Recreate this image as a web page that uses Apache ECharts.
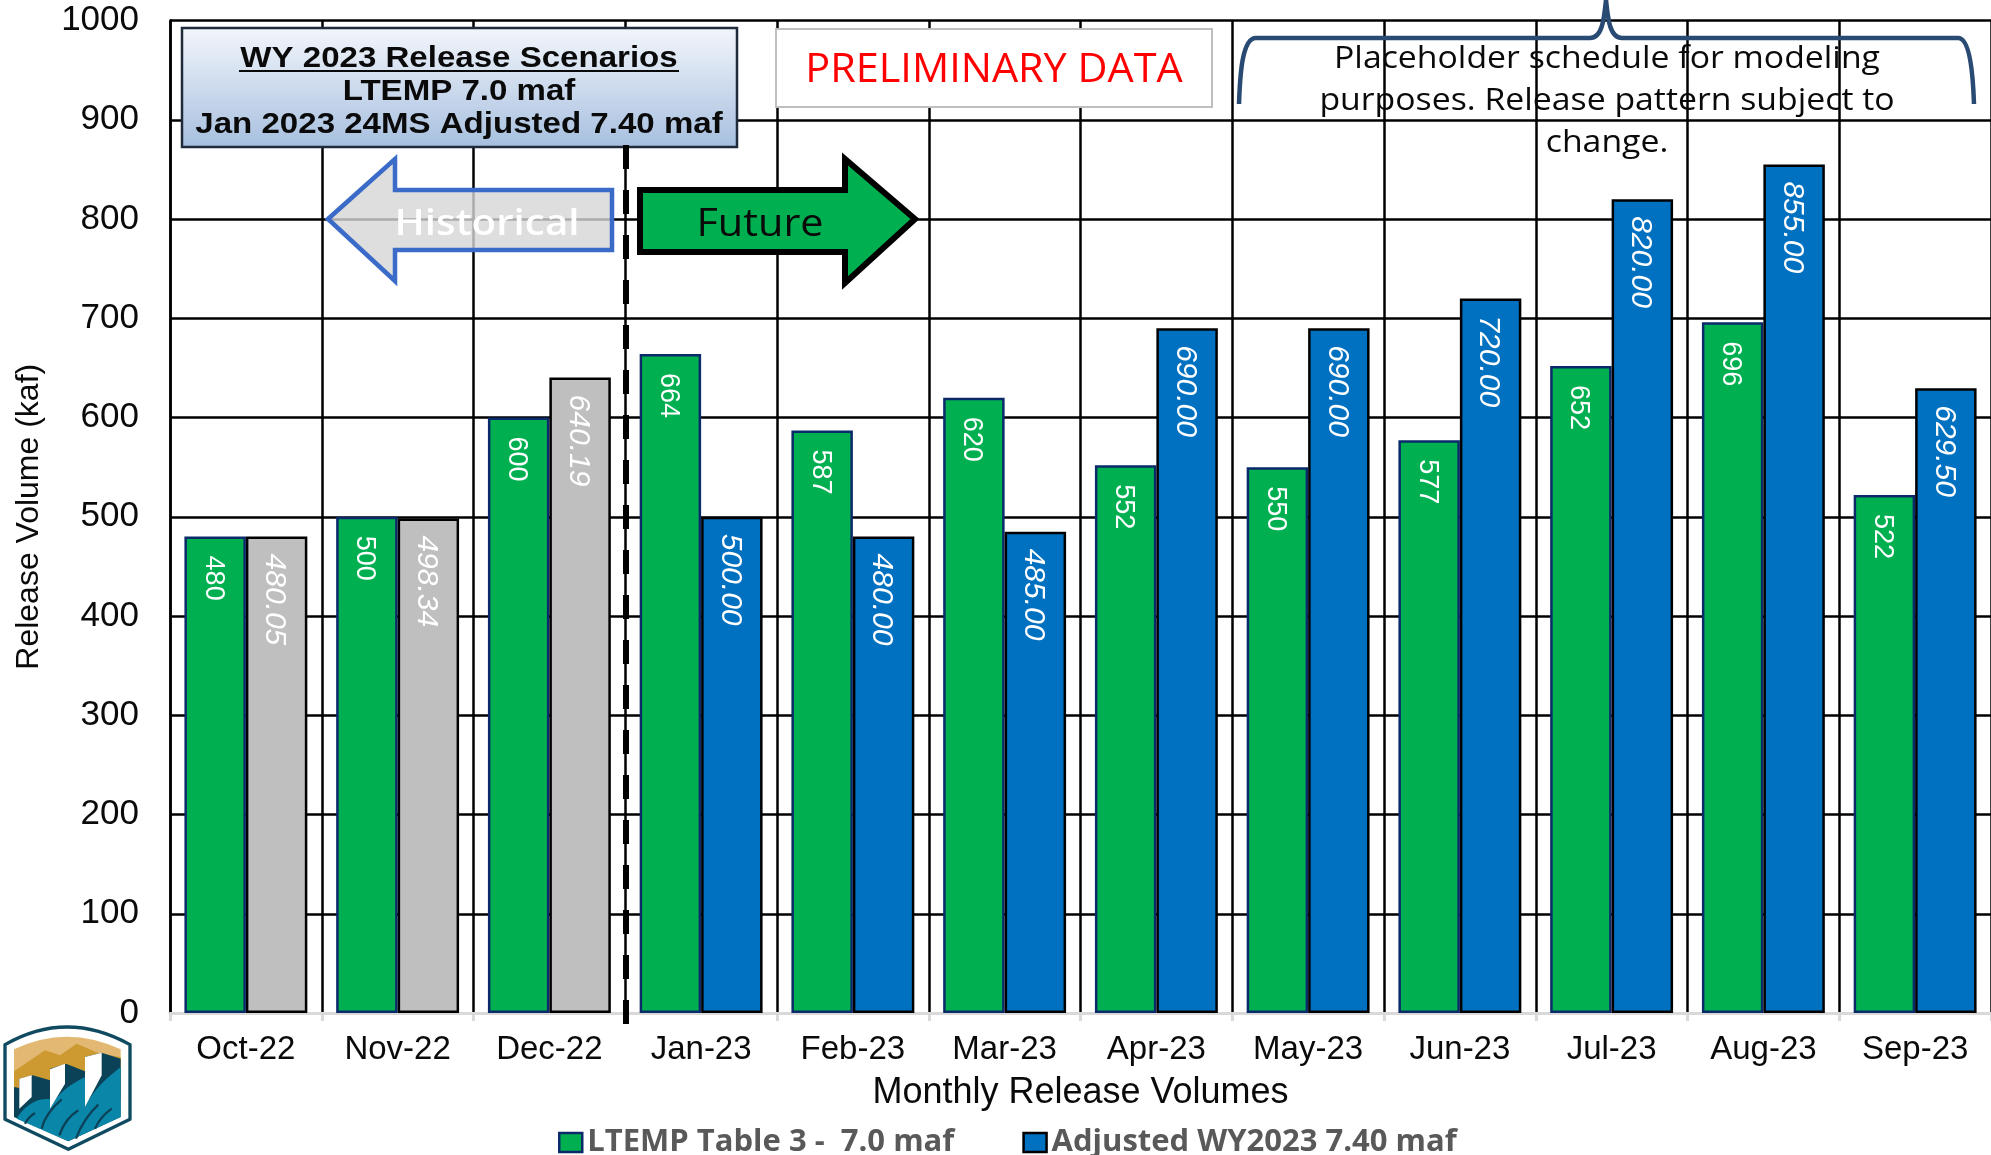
<!DOCTYPE html>
<html>
<head>
<meta charset="utf-8">
<style>html,body{margin:0;padding:0;background:#fff;overflow:hidden}#c{width:1991px;height:1155px}</style>
<script src="https://cdn.jsdelivr.net/npm/echarts@6/dist/echarts.min.js"></script>
</head>
<body>
<div id="c"></div>
<script>
const categories = ['Oct-22','Nov-22','Dec-22','Jan-23','Feb-23','Mar-23','Apr-23','May-23','Jun-23','Jul-23','Aug-23','Sep-23'];
const ltempValues = [480,500,600,664,587,620,552,550,577,652,696,522];
const adjustedValues = [480.05,498.34,640.19,500,480,485,690,690,720,820,855,629.5];
const historicalCount = 3;
const ltempName = 'LTEMP Table 3 -  7.0 maf';
const adjustedName = 'Adjusted WY2023 7.40 maf';

const sans = '"Liberation Sans", Arial, sans-serif';
const soft = '"Open Sans", "Noto Sans", sans-serif';
const ink = '#0a0a0a';

function txt(text, x, y, font, fill, sx) {
  return {type:'text', z:120, x, y, scaleX:sx || 1, style:{text, x:0, y:0, font, fill, textAlign:'center', textVerticalAlign:'middle'}};
}
function poly(points, fill, extra) {
  return Object.assign({type:'polygon', shape:{points}, style:{fill}}, extra || {});
}
function pathEl(name, pathData, style, extra) {
  echarts.graphic.registerShape(name, echarts.graphic.extendPath(pathData, {}));
  return Object.assign({type:name, style}, extra || {});
}
const logo = {
  type:'group', x:0, y:1012, scaleX:1/3, scaleY:1/3, z:120,
  children:[
    pathEl('logoShield','M15 98 Q200 -8 390 98 L390 322 L205 412 L15 322 Z',{fill:'#fff', stroke:'#0f4a60', lineWidth:10, lineJoin:'round'}),
    pathEl('logoSky','M42 112 Q200 36 362 112 L362 260 L42 260 Z',{fill:'#e3b873'}),
    poly([[42,178],[135,115],[180,130],[230,95],[300,125],[362,135],[362,260],[42,260]], '#cc9a30'),
    poly([[42,225],[58,228],[58,200],[98,190],[150,205],[150,170],[198,155],[255,178],[255,135],[305,122],[362,140],[362,315],[205,388],[42,315]], '#0c4258'),
    pathEl('logoWater','M50 320 C70 285 110 255 150 262 L150 290 C175 240 215 215 255 195 L255 285 C285 225 325 195 362 165 L362 315 L205 388 Z',{fill:'#0a86a8'}),
    pathEl('logoGrass','M75 335 Q85 315 105 303 M125 350 Q135 305 185 262 M178 370 Q195 320 235 295 M228 380 Q250 320 295 278 M285 350 Q300 315 335 290',{fill:'none', stroke:'#0c4258', lineWidth:7}),
    poly([[58,200],[95,190],[95,255],[58,290]], '#fff'),
    poly([[150,172],[195,155],[195,215],[150,290]], '#fff'),
    poly([[255,135],[305,122],[305,190],[255,285]], '#fff')
  ]
};

const annotations = [
  {type:'rect', z:110, shape:{x:182,y:28,width:555,height:119}, style:{stroke:'#1f2a3a', lineWidth:2.5,
    fill:{type:'linear',x:0,y:0,x2:0,y2:1,colorStops:[{offset:0,color:'#f3f6fb'},{offset:1,color:'#a6bfdf'}]}}},
  txt('WY 2023 Release Scenarios', 459, 58.5, 'bold 29px '+sans, ink, 1.14),
  {type:'line', z:120, shape:{x1:239,y1:71,x2:679,y2:71}, style:{stroke:ink, lineWidth:2}},
  txt('LTEMP 7.0 maf', 459, 92, 'bold 29px '+sans, ink, 1.14),
  txt('Jan 2023 24MS Adjusted 7.40 maf', 459, 125, 'bold 29px '+sans, ink, 1.14),
  {type:'rect', z:110, shape:{x:776,y:29,width:436,height:78}, style:{fill:'#fff', stroke:'#bfbfbf', lineWidth:2}},
  txt('PRELIMINARY DATA', 994, 71, '40px '+soft, '#ff0000', 1.035),
  pathEl('braceMark','M1239 104 C1240 75 1242 38 1256 38 L1590 38 C1602 38 1604 20 1606 0 C1608 20 1610 38 1622 38 L1958 38 C1970 38 1973 75 1974 104',
    {fill:'none', stroke:'#294a73', lineWidth:4.5}, {z:110}),
  txt('Placeholder schedule for modeling', 1607, 59, '31px '+soft, ink, 1.09),
  txt('purposes. Release pattern subject to', 1607, 101, '31px '+soft, ink, 1.09),
  txt('change.', 1607, 143, '31px '+soft, ink, 1.09),
  {type:'line', z:115, shape:{x1:626,y1:145,x2:626,y2:1024}, style:{stroke:'#000', lineWidth:6, lineDash:[24,21]}},
  poly([[328,219],[395,159],[395,190],[612,190],[612,250],[395,250],[395,281]], 'rgba(214,214,214,0.8)',
    {z:110, style:{fill:'rgba(214,214,214,0.8)', stroke:'#3a6bc8', lineWidth:4.5, lineJoin:'miter'}}),
  txt('Historical', 487, 225, '600 36px '+soft, '#ffffff', 1.12),
  poly([[640,190],[845,190],[845,159],[915,219],[845,283],[845,252],[640,252]], '#00b050',
    {z:110, style:{fill:'#00b050', stroke:'#000', lineWidth:6, lineJoin:'miter'}}),
  txt('Future', 760, 225, '38px '+soft, ink, 1.09),
  logo
];

const chart = echarts.init(document.getElementById('c'), null, {renderer:'canvas'});
const barLabel = (italic, decimals, size, dist) => ({
  show:true, position:'insideTop', distance:dist, offset:[0,2], rotate:-90, align:'left', verticalAlign:'middle',
  color:'#fff', fontFamily:sans, fontSize:size, fontStyle:italic ? 'italic' : 'normal',
  formatter:p => p.value.toFixed(decimals)
});
chart.setOption({
  animation:false,
  backgroundColor:'#fff',
  textStyle:{fontFamily:sans},
  grid:{left:170, top:20.5, width:1824, height:992.5, containLabel:false},
  legend:{
    left:553, top:1122, itemWidth:23, itemHeight:19, itemGap:68, icon:'rect',
    textStyle:{color:'#595959', fontFamily:soft, fontWeight:'bold', fontSize:31},
    data:[
      {name:ltempName, itemStyle:{color:'#00b050', borderColor:'#0a2a6a', borderWidth:2.5}},
      {name:adjustedName, itemStyle:{color:'#0070c0', borderColor:'#000', borderWidth:2.5}}
    ]
  },
  xAxis:{
    type:'category', data:categories,
    name:'Monthly Release Volumes', nameLocation:'middle', nameGap:62,
    nameTextStyle:{color:ink, fontFamily:sans, fontSize:36},
    axisLine:{lineStyle:{color:'#d9d9d9', width:3}},
    axisTick:{show:true, length:8, lineStyle:{color:'#d9d9d9', width:3}},
    axisLabel:{color:ink, fontFamily:sans, fontSize:33, margin:20},
    splitLine:{show:true, lineStyle:{color:'#000', width:2.5}}
  },
  yAxis:{
    type:'value', min:0, max:1000, interval:100,
    name:'Release Volume (kaf)', nameLocation:'middle', nameGap:125, nameRotate:90,
    nameTextStyle:{color:ink, fontFamily:sans, fontSize:32},
    axisLine:{show:true, lineStyle:{color:'#000', width:2.5}},
    axisTick:{show:false},
    axisLabel:{color:ink, fontFamily:sans, fontSize:35, margin:31, padding:[4,0,0,0], formatter:v => String(v)},
    splitLine:{show:true, lineStyle:{color:'#000', width:2.5}}
  },
  series:[
    {name:ltempName, type:'bar', data:ltempValues, barGap:'0%', barCategoryGap:'19%',
     itemStyle:{color:'#00b050', borderColor:'#0a2a6a', borderWidth:2.5},
     label:barLabel(false,0,27,19), z:3},
    {name:adjustedName, type:'bar', data:adjustedValues,
     itemStyle:{color:p => p.dataIndex < historicalCount ? '#bfbfbf' : '#0070c0', borderColor:'#000', borderWidth:2.5},
     label:barLabel(true,2,30,17), z:3}
  ],
  color:['#00b050','#0070c0'],
  graphic:annotations
});
</script>
</body>
</html>
